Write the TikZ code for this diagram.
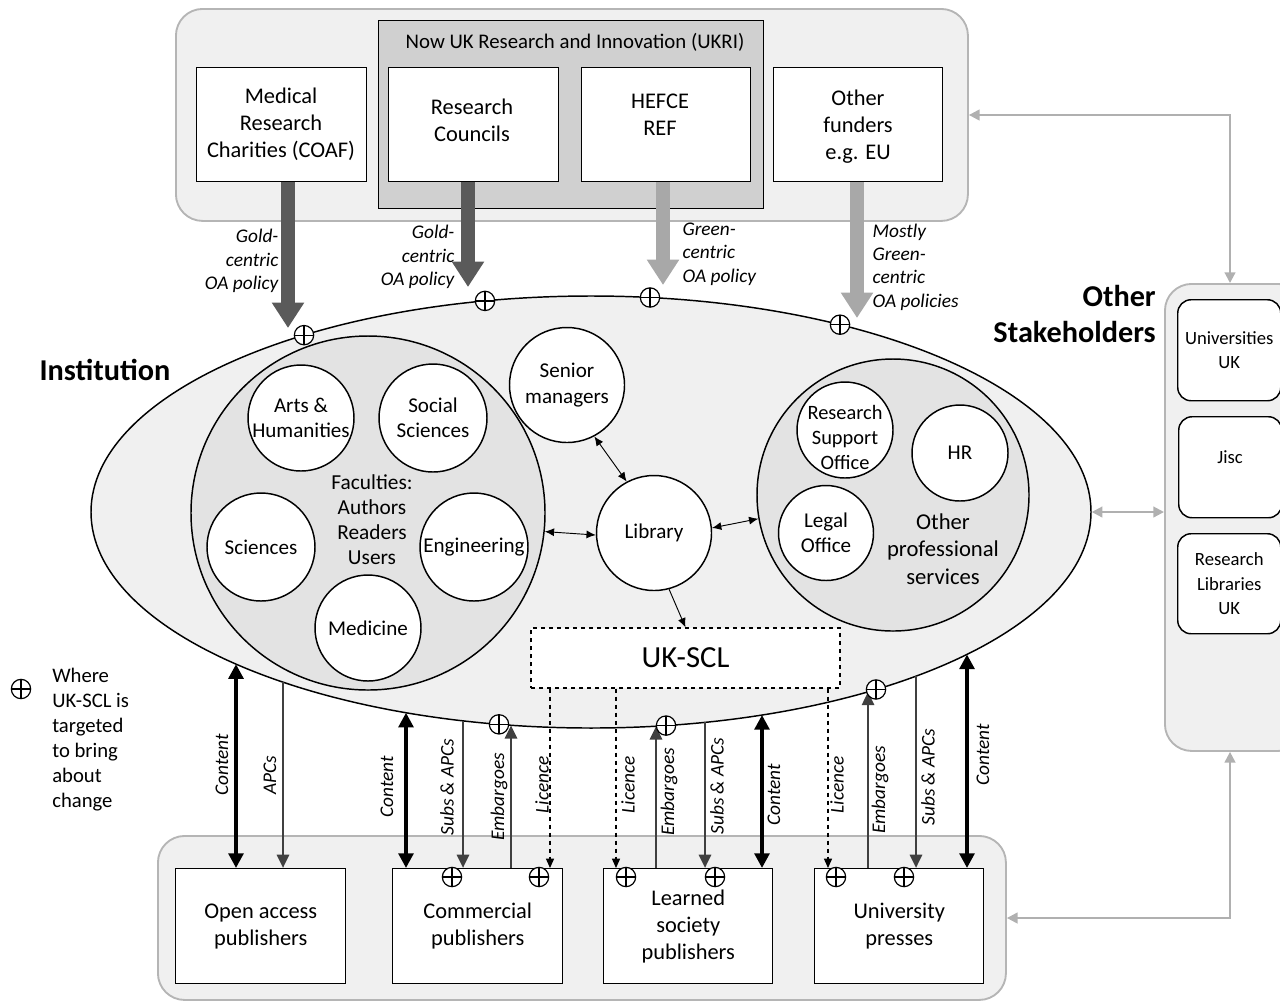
\documentclass[tikz,border=0pt]{standalone}
\usepackage{fontspec}
\setmainfont{Carlito}
\usetikzlibrary{arrows.meta,shapes.geometric,calc}
\definecolor{panelfill}{HTML}{F0F0F0}
\definecolor{panelline}{HTML}{B5B5B5}
\definecolor{innerfill}{HTML}{E3E3E3}
\definecolor{ukrifill}{HTML}{D0D0D0}
\definecolor{golddark}{HTML}{5A5A5A}
\definecolor{greenlight}{HTML}{A8A8A8}
\definecolor{moneygray}{HTML}{404040}
\definecolor{connectgray}{HTML}{B0B0B0}
\def\pxu{0.75pt}
\pgfmathdeclarefunction{ellb}{1}{\pgfmathparse{512+216*sqrt(1-((#1-591)/500)*((#1-591)/500))}}
\pgfmathdeclarefunction{ellt}{1}{\pgfmathparse{512-216*sqrt(1-((#1-591)/500)*((#1-591)/500))}}
\begin{document}
\begin{tikzpicture}[x=0.75pt,y=-0.75pt,
  every node/.style={font=\fontsize{15.8}{19}\selectfont},
  boxfont/.style={font=\fontsize{16.8}{20.25}\selectfont},
  panel/.style={draw=panelline, fill=panelfill, line width=1.4pt, rounded corners=20pt, inner sep=0},
  whitebox/.style={draw=black, fill=white, line width=1.1pt, align=center, inner sep=0, boxfont},
  sbox/.style={draw=black, fill=white, line width=1.1pt, rounded corners=10pt, align=center, inner sep=0, font=\fontsize{14}{18.5}\selectfont},
  wcirc/.style={circle, draw=black, fill=white, line width=1.1pt, align=center, inner sep=0},
  tgt/.style={circle, draw=black, fill=white, line width=0.9pt, minimum size=14.5pt, inner sep=0,
    path picture={\draw[line width=0.9pt] (path picture bounding box.north) -- (path picture bounding box.south) (path picture bounding box.west) -- (path picture bounding box.east);}},
  albl/.style={font=\itshape\fontsize{14.5}{17.5}\selectfont, inner sep=1pt},
  vlbl/.style={font=\itshape\fontsize{14.5}{17.5}\selectfont, inner sep=1pt, rotate=90},
  policy/.style={line width=11pt, -{Triangle[width=23pt,length=19pt]}},
  content/.style={line width=3pt, {Triangle[width=11pt,length=11pt]}-{Triangle[width=11pt,length=11pt]}},
  money/.style={color=moneygray, line width=2.2pt, -{Triangle[width=9pt,length=10pt]}},
  licence/.style={dashed, line width=0.9pt, -{Triangle[width=6pt,length=7pt]}},
  innerarrow/.style={line width=0.7pt, {Latex[width=6pt,length=7pt]}-{Latex[width=6pt,length=7pt]}},
  singlearrow/.style={line width=0.7pt, -{Latex[width=6pt,length=7pt]}},
  gconn/.style={color=connectgray, line width=1.6pt, {Triangle[width=8pt,length=8pt]}-{Triangle[width=8pt,length=8pt]}}
]
\useasboundingbox (0,0) rectangle (1280,1001);
\clip (0,0) rectangle (1280,1001);

% panels
\node[panel, anchor=north west, minimum width=792*\pxu, minimum height=212*\pxu] (fpanel) at (175,8) {};
\node[panel, anchor=north west, minimum width=848*\pxu, minimum height=164*\pxu] (ppanel) at (157,835) {};
\node[panel, anchor=north west, minimum width=140*\pxu, minimum height=467*\pxu] (spanel) at (1164,283) {};

% funders
\node[whitebox, fill=ukrifill, anchor=north west, minimum width=385*\pxu, minimum height=188*\pxu] (ukri) at (378,20) {};
\node[font=\fontsize{15.6}{19}\selectfont] (ukritxt) at (575,42) {Now UK Research and Innovation (UKRI)};
\node[whitebox, anchor=north west, minimum width=170*\pxu, minimum height=114*\pxu] (med) at (196,67) {};
\node[whitebox, anchor=north west, minimum width=170*\pxu, minimum height=114*\pxu] (rc) at (388,67) {};
\node[whitebox, anchor=north west, minimum width=169*\pxu, minimum height=114*\pxu] (hefce) at (581,67) {};
\node[whitebox, anchor=north west, minimum width=169*\pxu, minimum height=114*\pxu] (oth) at (773,67) {};
\node[align=center, boxfont] (medtxt) at (281,124) {Medical\\Research\\Charities (COAF)};
\node[align=center, boxfont] (rctxt) at (472,120) {Research\\Councils};
\node[align=center, boxfont] (hefcetxt) at (660,115) {HEFCE\\REF};
\node[align=center, boxfont] (othtxt) at (858,127) {Other\\funders\\e.g. EU};

% institution
\node[ellipse, draw, fill=panelfill, line width=1.1pt, minimum width=1000*\pxu, minimum height=432*\pxu, inner sep=0] (inst) at (591,512) {};
\node[circle, draw, fill=innerfill, line width=1.1pt, minimum size=354*\pxu, inner sep=0] (fac) at (368,513) {};
\node[align=center, font=\fontsize{16}{18.75}\selectfont] (factxt) at (372,520) {Faculties:\\Authors\\Readers\\Users};
\node[wcirc, minimum size=106*\pxu] (arts) at (301,418) {Arts \&\\Humanities};
\node[wcirc, minimum size=108*\pxu] (soc) at (433,418) {Social\\Sciences};
\node[wcirc, minimum size=108*\pxu] (sci) at (261,547) {Sciences};
\node[wcirc, minimum size=108*\pxu] (eng) at (474,547) {Engineering};
\node[wcirc, minimum size=106*\pxu] (medi) at (368,628) {Medicine};
\node[wcirc, minimum size=115*\pxu] (sm) at (567,385) {Senior\\managers};
\node[wcirc, minimum size=115*\pxu] (lib) at (654,533) {Library};
\node[circle, draw, fill=innerfill, line width=1.1pt, minimum size=272*\pxu, inner sep=0] (ops) at (893,495) {};
\node[wcirc, minimum size=96*\pxu] (rso) at (845,430) {};
\node[align=center, font=\fontsize{15.3}{18.75}\selectfont] (rsotxt) at (845,437) {Research\\Support\\Office};
\node[wcirc, minimum size=96*\pxu] (hr) at (960,453) {HR};
\node[wcirc, minimum size=95*\pxu] (legal) at (826,533) {Legal\\Office};
\node[align=center, font=\fontsize{17}{20.5}\selectfont] (opstxt) at (943,549) {Other\\professional\\services};
\node[draw, dashed, fill=white, line width=0.9pt, minimum width=309*\pxu, minimum height=60*\pxu, font=\fontsize{23}{27}\selectfont] (scl) at (685.5,658) {UK-SCL};

\draw[innerarrow] (fac.-6) -- (lib.182);
\draw[innerarrow] (sm.-62) -- (lib.118);
\draw[innerarrow] (lib.5) -- (ops.190);
\draw[singlearrow] (lib.-75) -- (scl.north);

% titles
\node[font=\bfseries\fontsize{22.7}{27}\selectfont] (insttitle) at (105,370) {Institution};
\node[font=\bfseries\fontsize{22.7}{27}\selectfont, align=right, anchor=east, inner sep=0] (sttitle) at (1156,314) {Other\\Stakeholders};

% stakeholders
\node[sbox, anchor=north west, minimum width=103*\pxu, minimum height=101*\pxu] (uuk) at (1177,299) {Universities\\UK};
\node[sbox, anchor=north west, minimum width=103*\pxu, minimum height=101*\pxu] (jisc) at (1178,416) {};
\node[font=\fontsize{14}{18.5}\selectfont] (jisctxt) at (1230,457) {Jisc};
\node[sbox, anchor=north west, minimum width=103*\pxu, minimum height=100*\pxu] (rluk) at (1177,533) {Research\\Libraries\\UK};

% publishers
\node[whitebox, anchor=north west, minimum width=170*\pxu, minimum height=115*\pxu] (oap) at (175,868) {Open access\\publishers};
\node[whitebox, anchor=north west, minimum width=170*\pxu, minimum height=115*\pxu] (cp) at (392,868) {Commercial\\publishers};
\node[whitebox, anchor=north west, minimum width=169*\pxu, minimum height=115*\pxu] (lsp) at (603,868) {Learned\\society\\publishers};
\node[whitebox, anchor=north west, minimum width=169*\pxu, minimum height=115*\pxu] (up) at (814,868) {University\\presses};

% gray connectors
\coordinate (g1) at (1230,115);
\draw[gconn] (fpanel.east |- g1) -- (g1) -- (g1 |- spanel.north);
\draw[gconn] (inst.east) -- (spanel.west |- inst.east);
\coordinate (g2) at (1230,918);
\draw[gconn] (g2 |- spanel.south) -- (g2) -- (ppanel.east |- g2);

% policy arrows
\coordinate (p1) at (288,328);
\coordinate (p2) at (468,287);
\coordinate (p3) at (663,285);
\coordinate (p4) at (857,318);
\draw[policy, golddark] (med.south -| p1) -- (p1);
\draw[policy, golddark] (rc.south -| p2) -- (p2);
\draw[policy, greenlight] (hefce.south -| p3) -- (p3);
\draw[policy, greenlight] (oth.south -| p4) -- (p4);
\node[albl, align=right, anchor=east] (l1) at (280,261) {Gold-\\centric\\OA policy};
\node[albl, align=right, anchor=east] (l2) at (456,257) {Gold-\\centric\\OA policy};
\node[albl, align=left, anchor=west] (l3) at (681,254) {Green-\\centric\\OA policy};
\node[albl, align=left, anchor=west] (l4) at (871,267) {Mostly\\Green-\\centric\\OA policies};

% flows to publishers
\coordinate (a1) at (236,{ellb(236)});
\coordinate (a2) at (283,{ellb(283)});
\coordinate (a3) at (406,{ellb(406)});
\coordinate (a4) at (463,{ellb(463)});
\coordinate (a5) at (511,{ellb(511)});
\coordinate (a6) at (656,{ellb(656)});
\coordinate (a7) at (705,{ellb(705)});
\coordinate (a8) at (762,{ellb(762)});
\coordinate (a9) at (868,{ellb(868)});
\coordinate (a10) at (916,{ellb(916)});
\coordinate (a11) at (967,{ellb(967)});
\coordinate (k1) at (550,868);
\coordinate (k2) at (616,868);
\coordinate (k3) at (828,868);

\draw[content] (a1) -- (a1 |- oap.north);
\draw[money] (a2) -- (a2 |- oap.north);
\draw[content] (a3) -- (a3 |- cp.north);
\draw[money] (a4) -- (a4 |- cp.north);
\draw[money] (a5 |- cp.north) -- (a5);
\draw[licence] (k1 |- scl.south) -- (k1);
\draw[licence] (k2 |- scl.south) -- (k2);
\draw[money] (a6 |- lsp.north) -- (a6);
\draw[money] (a7) -- (a7 |- lsp.north);
\draw[content] (a8) -- (a8 |- lsp.north);
\draw[licence] (k3 |- scl.south) -- (k3);
\draw[money] (a9 |- up.north) -- (a9);
\draw[money] (a10) -- (a10 |- up.north);
\draw[content] (a11) -- (a11 |- up.north);

\node[vlbl] (la1) at (222,765) {Content};
\node[vlbl] (la2) at (270,775) {APCs};
\node[vlbl] (la3) at (387,787) {Content};
\node[vlbl] (la4) at (447,787) {Subs \& APCs};
\node[vlbl] (la5) at (499,797) {Embargoes};
\node[vlbl] (la6) at (542,785) {Licence};
\node[vlbl] (la7) at (628,785) {Licence};
\node[vlbl] (la8) at (669,792) {Embargoes};
\node[vlbl] (la9) at (717,786) {Subs \& APCs};
\node[vlbl] (la10) at (774,795) {Content};
\node[vlbl] (la11) at (837,785) {Licence};
\node[vlbl] (la12) at (880,790) {Embargoes};
\node[vlbl] (la13) at (928,777) {Subs \& APCs};
\node[vlbl] (la14) at (983,755) {Content};

% target markers
\node[tgt] (t1) at (304,{ellt(304)}) {};
\node[tgt] (t2) at (485,{ellt(485)}) {};
\node[tgt] (t3) at (650,{ellt(650)}) {};
\node[tgt] (t4) at (840,{ellt(840)}) {};
\node[tgt] (t5) at (499,{ellb(499)}) {};
\node[tgt] (t6) at (666,{ellb(666)}) {};
\node[tgt] (t7) at (876,{ellb(876)}) {};
\node[tgt] (t8) at (452,877) {};
\node[tgt] (t9) at (539,877) {};
\node[tgt] (t10) at (626,877) {};
\node[tgt] (t11) at (715,877) {};
\node[tgt] (t12) at (836,877) {};
\node[tgt] (t13) at (904,877) {};

% legend
\node[tgt] (legsym) at (21,689) {};
\node[align=left, anchor=west, inner sep=0, font=\fontsize{15.5}{18.75}\selectfont] (legtxt) at (52,740) {Where\\UK-SCL is\\targeted\\to bring\\about\\change};
\end{tikzpicture}
\end{document}
